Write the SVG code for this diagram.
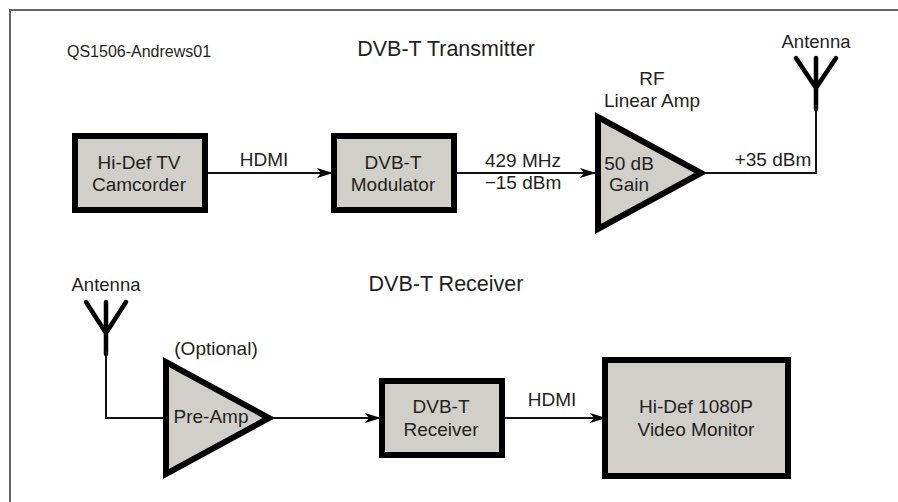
<svg xmlns="http://www.w3.org/2000/svg" width="898" height="502" viewBox="0 0 898 502">
<style>
text{font-family:"Liberation Sans",Arial,sans-serif;fill:#231f20;font-size:19px;text-anchor:middle}
.t{font-size:21.5px}
.s{font-size:16px;text-anchor:start}
.n{font-size:18.5px}
.b{fill:#d1cfc9;stroke:#000;stroke-width:6;stroke-miterlimit:10}
.c{fill:none;stroke:#111;stroke-width:2}
.a{fill:none;stroke:#000;stroke-width:4.5;stroke-linecap:round}
</style>
<defs>
<marker id="ah" markerUnits="userSpaceOnUse" markerWidth="18" markerHeight="12" refX="16" refY="6" orient="auto"><path d="M0,1L16,6L0,11L4,6Z" fill="#000"/></marker>
</defs>
<rect width="898" height="502" fill="#fff"/>
<path d="M10,502V10H898" fill="none" stroke="#666" stroke-width="2"/>
<g id="titles">
<text class="s" x="67" y="57">QS1506-Andrews01</text>
<text class="t" x="446" y="56">DVB-T Transmitter</text>
<text class="t" x="446" y="291">DVB-T Receiver</text>
</g>
<g id="camcorder">
<rect class="b" x="75" y="136" width="130" height="74"/>
<text x="139" y="169">Hi-Def TV</text>
<text x="139" y="191">Camcorder</text>
</g>
<text id="hdmi1" x="264" y="166">HDMI</text>
<g id="modulator">
<rect class="b" x="334" y="136" width="120" height="74"/>
<text x="393" y="169">DVB-T</text>
<text x="393" y="191">Modulator</text>
</g>
<g id="freq">
<text x="523" y="167">429 MHz</text>
<text x="523" y="189">−15 dBm</text>
</g>
<g id="linear-amp">
<text x="652" y="85">RF</text>
<text x="652" y="107">Linear Amp</text>
<path class="b" d="M598,117V229L701,173Z"/>
<text x="629" y="170">50 dB</text>
<text x="629" y="191">Gain</text>
</g>
<text id="output-level" x="773" y="166">+35 dBm</text>
<g id="antenna-tx">
<text class="n" x="816" y="48">Antenna</text>
<path class="a" d="M796,58L816,88L836,58M816,58V109"/>
</g>
<g id="antenna-rx">
<text class="n" x="106" y="291">Antenna</text>
<path class="a" d="M86,302L106,333L126,302M106,302V354"/>
</g>
<g id="preamp">
<text x="216" y="355">(Optional)</text>
<path class="b" d="M166,362V474L269,418Z"/>
<text x="211" y="423">Pre-Amp</text>
</g>
<g id="receiver">
<rect class="b" x="382" y="381" width="120" height="74"/>
<text x="441" y="413">DVB-T</text>
<text x="441" y="436">Receiver</text>
</g>
<text id="hdmi2" x="552" y="406">HDMI</text>
<g id="monitor">
<rect class="b" x="605" y="360" width="183" height="116"/>
<text x="696" y="413">Hi-Def 1080P</text>
<text x="696" y="436">Video Monitor</text>
</g>
<g id="connectors">
<path class="c" d="M208,173H333" marker-end="url(#ah)"/>
<path class="c" d="M457,173H596" marker-end="url(#ah)"/>
<path class="c" d="M706,173H816V105"/>
<path class="c" d="M106,350V418H164"/>
<path class="c" d="M274,418H381" marker-end="url(#ah)"/>
<path class="c" d="M505,418H606" marker-end="url(#ah)"/>
</g>
</svg>
